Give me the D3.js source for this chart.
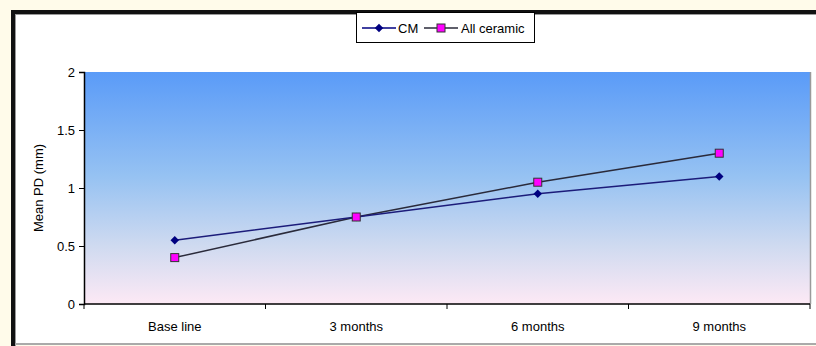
<!DOCTYPE html>
<html><head><meta charset="utf-8">
<script src="https://cdn.jsdelivr.net/npm/d3@7"></script>
<style>
html,body{margin:0;padding:0;background:#fffbea;}
svg{display:block;}
text{font-family:"Liberation Sans",Arial,sans-serif;fill:#000;}
</style></head>
<body>
<svg id="chart" width="816" height="346"></svg>
<script>
const categories = ["Base line","3 months","6 months","9 months"];
const seriesNames = ["CM","All ceramic"];
const cmValues = [0.55, 0.75, 0.95, 1.1];
const ceramicValues = [0.4, 0.75, 1.05, 1.3];
const yTicks = [0, 0.5, 1, 1.5, 2];
const yTickLabels = ["0","0.5","1","1.5","2"];

(function(){
const svg = d3.select("#chart");
// chart frame
svg.append("rect").attr("x",13).attr("y",12).attr("width",810).attr("height",332).attr("fill","#fff");
svg.append("line").attr("x1",13).attr("x2",816).attr("y1",12).attr("y2",12).attr("stroke","#111").attr("stroke-width",4);
svg.append("line").attr("x1",13).attr("x2",816).attr("y1",14.5).attr("y2",14.5).attr("stroke","#999").attr("stroke-width",1);
svg.append("line").attr("x1",13).attr("x2",13).attr("y1",10).attr("y2",346).attr("stroke","#111").attr("stroke-width",4);
svg.append("line").attr("x1",15.5).attr("x2",15.5).attr("y1",14).attr("y2",346).attr("stroke","#999").attr("stroke-width",1);
svg.append("line").attr("x1",15).attr("x2",816).attr("y1",344).attr("y2",344).attr("stroke","#aaa").attr("stroke-width",2);

const pL=84, pR=810, pT=72, pB=304;
const x = d3.scaleBand().domain(categories).range([pL,pR]);
const y = d3.scaleLinear().domain([0,2]).range([pB,pT]);

const defs = svg.append("defs");
const grad = defs.append("linearGradient").attr("id","bg").attr("x1",0).attr("y1",0).attr("x2",0).attr("y2",1);
grad.append("stop").attr("offset","0%").attr("stop-color","#5a9bf8");
grad.append("stop").attr("offset","45%").attr("stop-color","#96c2f2");
grad.append("stop").attr("offset","75%").attr("stop-color","#cfdaf0");
grad.append("stop").attr("offset","100%").attr("stop-color","#fde9f5");
svg.append("rect").attr("x",pL).attr("y",pT).attr("width",pR-pL).attr("height",pB-pT).attr("fill","url(#bg)");
svg.append("line").attr("x1",pR+0.5).attr("x2",pR+0.5).attr("y1",pT).attr("y2",pB).attr("stroke","#9a9a9a").attr("stroke-width",1.5);

// y axis
const yAxis = d3.axisLeft(y).tickValues(yTicks).tickFormat((d,i)=>yTickLabels[i]).tickSize(5).tickPadding(4);
const ya = svg.append("g").attr("transform",`translate(${pL},0)`).call(yAxis);
ya.select(".domain").attr("stroke","#000").attr("stroke-width",1.5);
ya.selectAll(".tick line").attr("stroke","#000");
ya.selectAll("text").attr("font-size",13).style("font-family",'"Liberation Sans",Arial,sans-serif');

// x axis with ticks on band boundaries
const xg = svg.append("g");
xg.append("line").attr("x1",pL).attr("x2",pR).attr("y1",pB).attr("y2",pB).attr("stroke","#000").attr("stroke-width",1.5);
const bounds = categories.map(c=>x(c)).concat([x(categories[categories.length-1])+x.bandwidth()]);
xg.selectAll(".xt").data(bounds).enter().append("line")
  .attr("x1",d=>d).attr("x2",d=>d).attr("y1",pB).attr("y2",pB+5).attr("stroke","#000");
xg.selectAll(".xl").data(categories).enter().append("text")
  .attr("x",d=>x(d)+x.bandwidth()/2).attr("y",pB+27).attr("text-anchor","middle").attr("font-size",13).text(d=>d);

// y title
svg.append("text").attr("transform",`translate(43,${(pT+pB)/2}) rotate(-90)`)
  .attr("text-anchor","middle").attr("font-size",13).text("Mean PD (mm)");

const cx = d => x(d)+x.bandwidth()/2;
const line = d3.line().x((d,i)=>cx(categories[i])).y(d=>y(d));

svg.append("path").datum(ceramicValues).attr("d",line).attr("fill","none").attr("stroke","#2a2a3a").attr("stroke-width",1.5);
svg.append("path").datum(cmValues).attr("d",line).attr("fill","none").attr("stroke","#1c1c7a").attr("stroke-width",1.5);

const diamond = d3.symbol().type(d3.symbolSquare).size(36);
svg.selectAll(".cm").data(cmValues).enter().append("path")
  .attr("d",diamond).attr("transform",(d,i)=>`translate(${cx(categories[i])},${y(d)}) rotate(45)`).attr("fill","#000080");
svg.selectAll(".ac").data(ceramicValues).enter().append("rect")
  .attr("x",(d,i)=>cx(categories[i])-4).attr("y",d=>y(d)-4).attr("width",8).attr("height",8)
  .attr("fill","#ff00ff").attr("stroke","#333").attr("stroke-width",1);

// legend
const lg = svg.append("g");
lg.append("rect").attr("x",356.5).attr("y",12.5).attr("width",178).attr("height",30).attr("fill","#fff").attr("stroke","#000");
lg.append("line").attr("x1",362).attr("x2",396).attr("y1",28).attr("y2",28).attr("stroke","#000080").attr("stroke-width",1.5);
lg.append("path").attr("d",diamond).attr("transform","translate(379,28) rotate(45)").attr("fill","#000080");
lg.append("text").attr("x",398).attr("y",33).attr("font-size",13).text(seriesNames[0]);
lg.append("line").attr("x1",424).attr("x2",458).attr("y1",28).attr("y2",28).attr("stroke","#2a2a3a").attr("stroke-width",1.5);
lg.append("rect").attr("x",437).attr("y",24).attr("width",8).attr("height",8).attr("fill","#ff00ff").attr("stroke","#333");
lg.append("text").attr("x",461).attr("y",33).attr("font-size",13).text(seriesNames[1]);
})();
</script>
</body></html>
